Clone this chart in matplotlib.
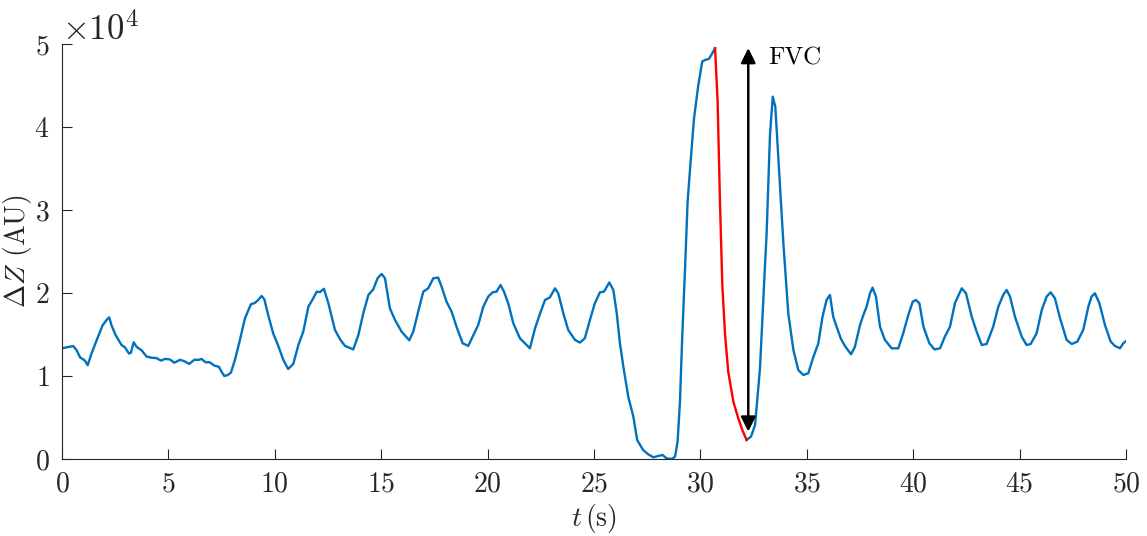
import numpy as np
import matplotlib
matplotlib.use("Agg")
from matplotlib import pyplot as plt

plt.rcParams["font.family"] = "serif"
plt.rcParams["font.serif"] = ["cmr10"]
plt.rcParams["mathtext.fontset"] = "cm"
plt.rcParams["axes.formatter.use_mathtext"] = True

# digitised signal, dZ in units of 1e4 AU
t_s = [0.00, 0.22, 0.53, 0.69, 0.85, 1.08, 1.21, 1.39, 1.63, 1.91, 2.10, 2.22, 2.33, 2.52, 2.80, 2.96,
       3.15, 3.24, 3.37, 3.51, 3.74, 3.98, 4.21, 4.45, 4.65, 4.84, 5.07, 5.28, 5.55, 5.78, 5.98, 6.22,
       6.44, 6.56, 6.75, 6.95, 7.16, 7.38, 7.50, 7.63, 7.78, 7.94, 8.13, 8.36, 8.60, 8.88, 9.07, 9.22,
       9.38, 9.51, 9.69, 9.93, 10.17, 10.40, 10.63, 10.87, 11.11, 11.34, 11.58, 11.81, 11.97, 12.12,
       12.31, 12.52, 12.83, 13.07, 13.30, 13.69, 13.93, 14.16, 14.40, 14.63, 14.83, 15.02, 15.18, 15.41,
       15.65, 15.96, 16.32, 16.51, 16.74, 16.98, 17.21, 17.45, 17.68, 17.84, 18.07, 18.31, 18.54, 18.83,
       19.09, 19.30, 19.56, 19.80, 20.03, 20.24, 20.42, 20.61, 20.77, 20.97, 21.21, 21.52, 21.83, 21.99,
       22.23, 22.47, 22.70, 22.93, 23.17, 23.32, 23.56, 23.79, 24.11, 24.34, 24.57, 24.81, 25.04, 25.28,
       25.47, 25.72, 25.91, 26.07, 26.22, 26.38, 26.61, 26.85, 27.03, 27.31, 27.55, 27.79, 28.02, 28.22,
       28.41, 28.65, 28.81, 28.93, 29.04, 29.15, 29.28, 29.40, 29.54, 29.70, 29.90, 30.09, 30.22, 30.40,
       30.56, 30.69, 30.81, 30.92, 31.03, 31.16, 31.31, 31.55, 31.78, 31.97, 32.17, 32.38, 32.57, 32.80,
       33.03, 33.11, 33.27, 33.40, 33.52, 33.66, 33.90, 34.13, 34.37, 34.60, 34.84, 35.07, 35.31, 35.54,
       35.74, 35.93, 36.09, 36.24, 36.40, 36.60, 36.79, 37.08, 37.26, 37.50, 37.66, 37.81, 37.97, 38.09,
       38.25, 38.44, 38.67, 38.99, 39.30, 39.53, 39.77, 39.98, 40.13, 40.29, 40.48, 40.76, 41.00, 41.26,
       41.49, 41.73, 41.96, 42.28, 42.48, 42.75, 42.98, 43.22, 43.45, 43.76, 44.00, 44.23, 44.39, 44.55,
       44.78, 45.10, 45.33, 45.52, 45.80, 46.04, 46.27, 46.46, 46.66, 46.90, 47.21, 47.45, 47.71, 47.99,
       48.23, 48.38, 48.54, 48.75, 49.01, 49.28, 49.48, 49.72, 49.87, 50.00]
dz = [1.333, 1.345, 1.36, 1.31, 1.225, 1.185, 1.13, 1.27, 1.43, 1.61, 1.675, 1.707, 1.61, 1.494, 1.373, 1.345,
      1.27, 1.28, 1.406, 1.35, 1.31, 1.233, 1.22, 1.215, 1.185, 1.205, 1.20, 1.16, 1.195, 1.175, 1.145, 1.195,
      1.195, 1.205, 1.165, 1.165, 1.125, 1.11, 1.05, 1.00, 1.01, 1.04, 1.195, 1.43, 1.695, 1.864, 1.88, 1.915,
      1.964, 1.924, 1.735, 1.51, 1.36, 1.195, 1.084, 1.145, 1.373, 1.534, 1.835, 1.936, 2.016, 2.01,
      2.05, 1.876, 1.554, 1.442, 1.362, 1.32, 1.494, 1.755, 1.976, 2.044, 2.177, 2.229, 2.177, 1.815,
      1.675, 1.534, 1.43, 1.534, 1.775, 2.016, 2.056, 2.177, 2.185, 2.076, 1.896, 1.775, 1.594, 1.394,
      1.362, 1.474, 1.614, 1.835, 1.956, 2.008, 2.016, 2.096, 2.016, 1.876, 1.634, 1.454, 1.373, 1.333,
      1.574, 1.755, 1.916, 1.948, 2.056, 1.996, 1.755, 1.554, 1.434, 1.402, 1.454, 1.675, 1.876, 2.008,
      2.016, 2.127, 2.036, 1.755, 1.394, 1.113, 0.751, 0.51, 0.229, 0.108, 0.056, 0.02, 0.036, 0.048,
      0.008, 0.0, 0.028, 0.21, 0.69, 1.494, 2.30, 3.10, 3.58, 4.10, 4.50, 4.79, 4.807, 4.82,
      4.887, 4.948, 4.305, 3.10, 2.10, 1.494, 1.05, 0.69, 0.49, 0.35, 0.229, 0.27, 0.41, 1.09,
      2.30, 2.70, 3.90, 4.365, 4.245, 3.643, 2.598, 1.755, 1.313, 1.072, 1.012, 1.032, 1.23, 1.39,
      1.715, 1.916, 1.976, 1.715, 1.595, 1.45, 1.362, 1.261, 1.35, 1.614, 1.735, 1.835, 1.996, 2.064,
      1.956, 1.594, 1.434, 1.333, 1.333, 1.514, 1.735, 1.896, 1.916, 1.876, 1.594, 1.394, 1.32, 1.333,
      1.474, 1.594, 1.876, 2.056, 1.996, 1.715, 1.534, 1.373, 1.385, 1.594, 1.835, 1.976, 2.036, 1.956,
      1.715, 1.474, 1.373, 1.385, 1.514, 1.795, 1.956, 2.008, 1.936, 1.695, 1.434, 1.385, 1.414, 1.554,
      1.835, 1.956, 1.996, 1.876, 1.614, 1.414, 1.362, 1.333, 1.394, 1.42]

# forced expiration (red part) and FVC arrow
fvc_start, fvc_end = 30.69, 32.17
arrow_t = 32.25
arrow_top, arrow_bottom = 4.95, 0.33

t = np.array(t_s)
z = np.array(dz) * 1e4
blue = "#0072BD"
grey = "#262626"

fig = plt.figure(figsize=(11.47, 5.36), dpi=100)
ax = fig.add_axes([0.054, 0.1437, 0.9277, 0.7743])

m1 = t <= fvc_start
m2 = (t >= fvc_start) & (t <= fvc_end)
m3 = t >= fvc_end
ax.plot(t[m1], z[m1], color=blue, lw=1.7)
ax.plot(t[m3], z[m3], color=blue, lw=1.7)
ax.plot(t[m2], z[m2], color="red", lw=1.7)

ax.annotate("", xy=(arrow_t, arrow_top * 1e4), xytext=(arrow_t, arrow_bottom * 1e4),
            arrowprops=dict(arrowstyle="<|-|>", color="black", lw=1.8,
                            mutation_scale=22, shrinkA=0, shrinkB=0))
ax.text(33.2, 4.83e4, "FVC", fontsize=18, va="center", ha="left")

ax.set_xlim(0, 50)
ax.set_ylim(0, 5e4)
ax.set_xticks(np.arange(0, 51, 5))
ax.set_yticks(np.arange(0, 5.1e4, 1e4))
ax.ticklabel_format(axis="y", style="sci", scilimits=(0, 0), useMathText=True)
ax.yaxis.get_offset_text().set_fontsize(25)
ax.yaxis.get_offset_text().set_color(grey)

for s in ["top", "right"]:
    ax.spines[s].set_visible(False)
for s in ["left", "bottom"]:
    ax.spines[s].set_color(grey)
    ax.spines[s].set_linewidth(0.8)
ax.tick_params(direction="in", length=7, width=0.8, colors=grey, labelsize=20, pad=9)

ax.set_xlabel(r"$t\,$(s)", fontsize=20, color=grey, labelpad=3)
ax.set_ylabel(r"$\Delta Z$ (AU)", fontsize=20, color=grey, labelpad=0)

fig.savefig("out.png", dpi=100)
